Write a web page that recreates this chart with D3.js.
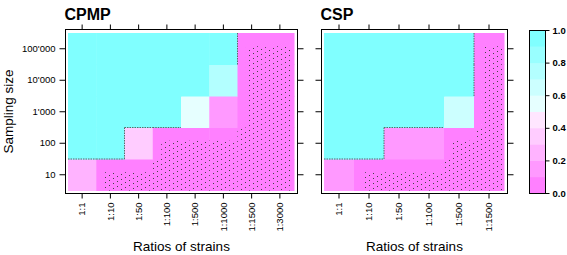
<!DOCTYPE html>
<html>
<head>
<meta charset="utf-8">
<script src="https://cdn.jsdelivr.net/npm/d3@7"></script>
<style>
  body { margin: 0; background: #fff; }
  svg text { font-family: "Liberation Sans", Arial, sans-serif; }
</style>
</head>
<body>
<div id="chart"></div>
<script>
// sampling sizes, bottom to top
const sizes = ["10", "100", "1'000", "10'000", "100'000"];

const cpmpRatios = ["1:1", "1:10", "1:50", "1:100", "1:500", "1:1000", "1:1500", "1:3000"];
const cspRatios = ["1:1", "1:10", "1:50", "1:100", "1:500", "1:1500"];

// one row per sampling size (same order as sizes)
const cpmpValues = [
  [0.25, 0, 0, 0, 0, 0, 0, 0],
  [1, 1, 0.35, 0, 0, 0, 0, 0],
  [1, 1, 1, 1, 0.55, 0.15, 0, 0],
  [1, 1, 1, 1, 1, 0.72, 0, 0],
  [1, 1, 1, 1, 1, 1, 0, 0]
];
const cspValues = [
  [0.15, 0, 0, 0, 0, 0],
  [1, 1, 0.15, 0.15, 0, 0],
  [1, 1, 1, 1, 0.62, 0],
  [1, 1, 1, 1, 1, 0],
  [1, 1, 1, 1, 1, 0]
];

const legendTicks = [0, 0.2, 0.4, 0.6, 0.8, 1.0];

function main() {
  const W = 567, H = 255;
  const svg = d3.select("#chart").append("svg")
    .attr("width", W).attr("height", H);

  // cm.colors(10), reversed: magenta at 0, cyan at 1
  const cuts = d3.range(1, 10).map(d => d / 10);
  const sat = [0.5, 0.4, 0.3, 0.2, 0.1];
  const pal = sat.map(s => d3.rgb(255, 255 * (1 - s), 255).formatHex())
    .concat(sat.slice().reverse().map(s => d3.rgb(255 * (1 - s), 255, 255).formatHex()));
  const color = d3.scaleThreshold().domain(cuts).range(pal);

  // dotted slanted lines (contours of the near-zero area)
  const defs = svg.append("defs");
  const pat = defs.append("pattern")
    .attr("id", "dots")
    .attr("width", 20).attr("height", 5)
    .attr("patternUnits", "userSpaceOnUse");
  [[1, 4], [5, 2], [9, 0], [13, 3], [17, 1]].forEach(([dx, dy]) =>
    pat.append("rect").attr("x", dx).attr("y", dy).attr("width", 1).attr("height", 1).attr("fill", "#444"));

  const boxTop = 29.5, boxBottom = 193.5;
  const fillTop = 33, fillBottom = 190.5;

  const panels = [
    {title: "CPMP", ratios: cpmpRatios, values: cpmpValues, box: [65.5, 297.5], fill: [68, 294]},
    {title: "CSP", ratios: cspRatios, values: cspValues, box: [321.5, 507.5], fill: [324, 504]}
  ];

  const y = d3.scaleBand().domain(sizes.slice().reverse()).range([fillTop, fillBottom]);

  panels.forEach((p, pi) => {
    const x = d3.scaleBand().domain(p.ratios).range(p.fill);
    const g = svg.append("g");
    const cells = [];
    p.values.forEach((row, ri) => row.forEach((v, ci) => {
      cells.push({r: ri, c: ci, v: v, size: sizes[ri], ratio: p.ratios[ci]});
    }));
    const val = (r, c) => (r < 0 || r >= sizes.length || c < 0 || c >= p.ratios.length) ? null : p.values[r][c];

    g.selectAll("rect.cell").data(cells).join("rect")
      .attr("class", "cell")
      .attr("x", d => x(d.ratio))
      .attr("y", d => y(d.size))
      .attr("width", x.bandwidth() + 0.5)
      .attr("height", y.bandwidth() + 0.5)
      .attr("fill", d => color(d.v));

    // dotted areas over the near-zero cells
    const bw = x.bandwidth(), bh = y.bandwidth();
    const zero = cells.filter(d => d.v < 0.05).map(d => {
      const above = val(d.r + 1, d.c), left = val(d.c - 1 >= 0 ? d.r : -1, d.c - 1);
      const li = (left === null || left >= 0.05) ? 0.3 * bw : 0;
      const ti = (above === null || above >= 0.05) ? 0.42 * bh : 0;
      const ri = d.c === p.ratios.length - 1 ? 2 : 0;
      return {x: x(d.ratio) + li, y: y(d.size) + ti, w: bw - li - ri, h: bh - ti};
    });
    g.selectAll("rect.dot").data(zero).join("rect")
      .attr("x", d => d.x).attr("y", d => d.y)
      .attr("width", d => d.w).attr("height", d => d.h)
      .attr("fill", "url(#dots)");

    // contour edges between the cyan block and low cells
    const edges = [];
    cells.forEach(d => {
      if (d.v >= 0.5) return;
      const above = val(d.r + 1, d.c);
      const left = d.c > 0 ? val(d.r, d.c - 1) : null;
      if (above !== null && above >= 0.9)
        edges.push([x(d.ratio), y(d.size), x(d.ratio) + bw, y(d.size)]);
      if (left !== null && left >= 0.9)
        edges.push([x(d.ratio), y(d.size), x(d.ratio), y(d.size) + bh]);
    });
    g.selectAll("line.edge").data(edges).join("line")
      .attr("x1", d => d[0]).attr("y1", d => d[1])
      .attr("x2", d => d[2]).attr("y2", d => d[3])
      .attr("stroke", "#5a6a6a")
      .attr("stroke-width", 1)
      .attr("stroke-dasharray", "1.5,1");

    // panel box
    svg.append("rect")
      .attr("x", p.box[0]).attr("y", boxTop)
      .attr("width", p.box[1] - p.box[0]).attr("height", boxBottom - boxTop)
      .attr("fill", "none").attr("stroke", "#000").attr("stroke-width", 1);

    // axes
    const bottom = svg.append("g")
      .attr("transform", `translate(0,${boxBottom})`)
      .call(d3.axisBottom(x).tickSize(5).tickSizeOuter(0).tickPadding(4));
    bottom.selectAll("text")
      .attr("transform", "rotate(-90)")
      .attr("text-anchor", "end")
      .attr("x", -9).attr("y", 0).attr("dy", "0.35em");
    svg.append("g")
      .attr("transform", `translate(0,${boxTop})`)
      .call(d3.axisTop(x).tickSize(5).tickSizeOuter(0).tickFormat(""));
    svg.append("g")
      .attr("transform", `translate(${p.box[0]},0)`)
      .call(d3.axisLeft(y).tickSize(6).tickSizeOuter(0).tickPadding(4)
        .tickFormat(pi === 0 ? null : ""));
    svg.append("g")
      .attr("transform", `translate(${p.box[1]},0)`)
      .call(d3.axisRight(y).tickSize(6).tickSizeOuter(0).tickFormat(""));

    svg.selectAll(".domain").remove();
    svg.selectAll(".tick line").attr("stroke", "#000");
    svg.selectAll(".tick text").attr("font-size", 9.5).attr("fill", "#000")
      .attr("font-family", "Liberation Sans, Arial, sans-serif");

    // title
    svg.append("text")
      .attr("x", p.box[0] - 1).attr("y", 20)
      .attr("font-size", 16).attr("font-weight", "bold")
      .text(p.title);

    // x label
    svg.append("text")
      .attr("x", (p.box[0] + p.box[1]) / 2).attr("y", 251)
      .attr("text-anchor", "middle")
      .attr("font-size", 13.5)
      .text("Ratios of strains");
  });

  // y label
  svg.append("text")
    .attr("transform", `translate(13,${(boxTop + boxBottom) / 2}) rotate(-90)`)
    .attr("text-anchor", "middle")
    .attr("font-size", 13.5)
    .text("Sampling size");

  // colour key
  const ky = d3.scaleLinear().domain([0, 1]).range([193, 30]);
  const keyX = 529, keyW = 16;
  const bands = d3.range(10).map(i => ({lo: i / 10, hi: (i + 1) / 10}));
  svg.append("g").selectAll("rect").data(bands).join("rect")
    .attr("x", keyX).attr("y", d => ky(d.hi))
    .attr("width", keyW).attr("height", d => ky(d.lo) - ky(d.hi) + 0.5)
    .attr("fill", d => color((d.lo + d.hi) / 2));
  svg.append("rect")
    .attr("x", keyX + 0.5).attr("y", ky(1) + 0.5)
    .attr("width", keyW).attr("height", ky(0) - ky(1))
    .attr("fill", "none").attr("stroke", "#000");
  const key = svg.append("g")
    .attr("transform", `translate(${keyX + keyW + 0.5},0)`)
    .call(d3.axisRight(ky).tickValues(legendTicks).tickSize(4).tickPadding(3)
      .tickFormat(d3.format(".1f")));
  key.select(".domain").remove();
  key.selectAll("text").attr("font-size", 9.5).attr("font-weight", "bold")
    .attr("font-family", "Liberation Sans, Arial, sans-serif");
}

main();
</script>
</body>
</html>
